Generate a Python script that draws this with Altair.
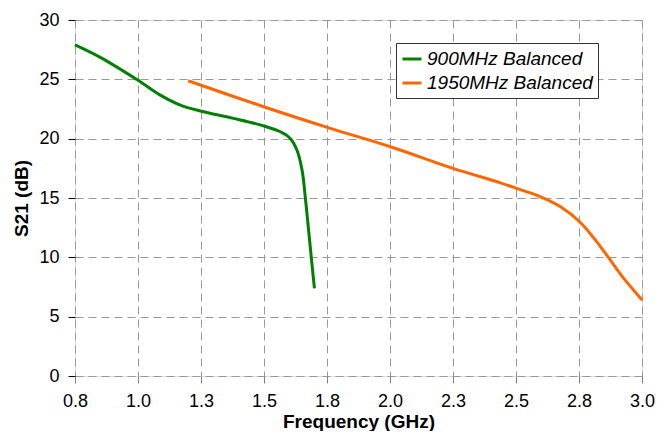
import altair as alt
import pandas as pd

# 900MHz Balanced
g_freq = [0.80, 0.898, 1.043, 1.131, 1.209, 1.287, 1.415, 1.525, 1.597, 1.636, 1.661, 1.681, 1.694, 1.705, 1.717, 1.729]
g_s21 = [27.9, 26.85, 24.94, 23.67, 22.83, 22.33, 21.71, 21.12, 20.58, 20.0, 19.04, 17.35, 14.97, 12.58, 9.95, 7.39]

# 1950MHz Balanced
o_freq = [1.239, 1.532, 1.791, 2.024, 2.267, 2.451, 2.513, 2.607, 2.684, 2.758, 2.814, 2.866, 2.93, 3.0]
o_s21 = [24.88, 22.69, 20.87, 19.32, 17.5, 16.28, 15.81, 15.1, 14.26, 13.0, 11.6, 10.1, 8.2, 6.4]

series_names = ["900MHz Balanced", "1950MHz Balanced"]
series_colors = ["#008000", "#FF6600"]

x_ticks = [0.8, 1.0444, 1.2889, 1.5333, 1.7778, 2.0222, 2.2667, 2.5111, 2.7556, 3.0]
y_ticks = [0, 5, 10, 15, 20, 25, 30]

df = pd.concat([
    pd.DataFrame({"freq": g_freq, "s21": g_s21, "series": series_names[0], "order": range(len(g_freq))}),
    pd.DataFrame({"freq": o_freq, "s21": o_s21, "series": series_names[1], "order": range(len(o_freq))}),
])

FONT = "Liberation Sans"

chart = alt.Chart(df).mark_line(strokeWidth=3, interpolate="catmull-rom").encode(
    x=alt.X("freq:Q",
            scale=alt.Scale(domain=[0.8, 3.0], nice=False, zero=False),
            axis=alt.Axis(values=x_ticks, format=".1f", title="Frequency (GHz)",
                          grid=True, gridDash=[8, 5], gridColor="#999999", gridWidth=1,
                          tickColor="#808080", tickSize=7, domain=False,
                          labelFlush=False, labelOverlap=False,
                          labelFontSize=18, labelPadding=9, labelColor="black",
                          labelFont=FONT, titleFont=FONT, titleFontSize=19,
                          titleFontWeight="bold", titlePadding=2, titleColor="black")),
    y=alt.Y("s21:Q",
            scale=alt.Scale(domain=[0, 30], nice=False),
            axis=alt.Axis(values=y_ticks, title="S21 (dB)",
                          grid=True, gridDash=[8, 5], gridColor="#999999", gridWidth=1,
                          tickColor="black", tickSize=7, domain=False,
                          labelFlush=False, labelOverlap=False,
                          labelFontSize=18, labelPadding=9, labelColor="black",
                          labelFont=FONT, titleFont=FONT, titleFontSize=19,
                          titleFontWeight="bold", titlePadding=7, titleColor="black")),
    color=alt.Color("series:N",
                    scale=alt.Scale(domain=series_names, range=series_colors),
                    legend=alt.Legend(title=None, orient="none", legendX=321, legendY=23,
                                      symbolType="stroke", symbolSize=361, symbolStrokeWidth=3,
                                      labelFont=FONT, labelFontSize=19, labelFontStyle="italic",
                                      labelColor="black", labelLimit=0,
                                      fillColor="white", strokeColor="#333333",
                                      padding=5, rowPadding=3, labelOffset=4)),
    order="order:Q",
).properties(
    width=567, height=356,
    autosize=alt.AutoSizeParams(type="none"),
    padding={"left": 67, "top": 12, "right": 22, "bottom": 55},
).configure_view(stroke="black", strokeWidth=2).configure(background="white")

chart.save("out.html", embed_options={"renderer": "svg", "actions": False})
